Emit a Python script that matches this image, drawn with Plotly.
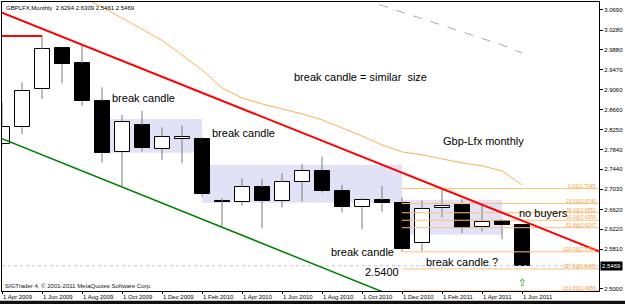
import plotly.graph_objects as go

# ---------------- data ----------------
months = ["Apr 2009", "May 2009", "Jun 2009", "Jul 2009", "Aug 2009", "Sep 2009", "Oct 2009",
          "Nov 2009", "Dec 2009", "Jan 2010", "Feb 2010", "Mar 2010", "Apr 2010", "May 2010",
          "Jun 2010", "Jul 2010", "Aug 2010", "Sep 2010", "Oct 2010", "Nov 2010", "Dec 2010",
          "Jan 2011", "Feb 2011", "Mar 2011", "Apr 2011", "May 2011", "Jun 2011"]
opens = [2.7951, 2.8298, 2.9073, 2.9909, 2.9603, 2.8834, 2.7788, 2.8339, 2.7861, 2.8053, 2.8059,
         2.6782, 2.6768, 2.7074, 2.6795, 2.7176, 2.7413, 2.7005, 2.6666, 2.6815, 2.6748, 2.5932,
         2.6646, 2.6713, 2.6271, 2.6393, 2.6294]
highs = [2.8800, 2.9216, 3.0160, 2.9925, 2.9997, 2.9114, 2.8549, 2.8630, 2.8298, 2.8330, 2.8094,
         2.6850, 2.7258, 2.7237, 2.7360, 2.7543, 2.7698, 2.7121, 2.6850, 2.7101, 2.6862, 2.6801,
         2.7045, 2.6830, 2.6748, 2.6420, 2.6309]
lows = [2.7916, 2.8155, 2.8875, 2.9195, 2.8732, 2.7576, 2.7086, 2.7800, 2.7631, 2.7564, 2.6882,
        2.6271, 2.6693, 2.6238, 2.6658, 2.6780, 2.6964, 2.6556, 2.6218, 2.6576, 2.5754, 2.5770,
        2.6462, 2.6136, 2.6169, 2.6014, 2.5461]
closes = [2.8310, 2.9044, 2.9889, 2.9583, 2.8834, 2.7768, 2.8412, 2.7882, 2.8106, 2.8106, 2.6931,
          2.6778, 2.7074, 2.6801, 2.7176, 2.7413, 2.7005, 2.6679, 2.6815, 2.6748, 2.5810, 2.6632,
          2.6693, 2.6238, 2.6373, 2.6294, 2.5469]

# slow moving average (orange), bars 4..26
ma_orange_start = 4
ma_orange = [3.0955, 3.0751, 3.0527, 3.0292, 3.0068, 2.9772, 2.9466, 2.9099, 2.8895, 2.8773,
             2.8671, 2.8569, 2.8447, 2.8284, 2.8120, 2.7937, 2.7794, 2.7733, 2.7651, 2.7570,
             2.7509, 2.7407, 2.7121]
# longer moving average (grey dashed), bars 18..26
ma_grey_start = 18
ma_grey = [3.0914, 3.0782, 3.0649, 3.0517, 3.0384, 3.0241, 3.0109, 2.9976, 2.9813]

# trend lines (bar index, price)
red_line_x = [0, 29.85]
red_line_y = [3.0633, 2.5763]
red_level_x = [0, 2]
red_level_y = [3.0160, 3.0160]
green_line_x = [0, 20]
green_line_y = [2.8063, 2.4778]

# highlighted ranges: (x0, x1, y0, y1)
boxes = [(5.4, 10, 2.7774, 2.8467), (10, 20, 2.6754, 2.7529), (20, 25, 2.6101, 2.6815)]

# fibonacci
fib_start = 20
fib_levels = [2.7045, 2.6740, 2.6552, 2.6399, 2.6247, 2.5754, 2.5405, 2.4956]
fib_labels = ["0.0@2.7045", "23.6@2.6740", "38.2@2.6552", "50.0@2.6399", "61.8@2.6247",
              "100.0@2.5754", "127.0@2.5405", "161.8@2.4956"]

y_tickvals = [3.0690, 3.0280, 2.9880, 2.9470, 2.9060, 2.8660, 2.8250, 2.7840, 2.7440, 2.7030,
              2.6620, 2.6220, 2.5810, 2.5000]
x_tickvals = list(range(0, 27, 2))
x_ticktext = ["1 " + months[i] for i in x_tickvals]

last_price = 2.5469
header = "GBPLFX,Monthly  2.6294 2.6309 2.5461 2.5469"
copyright_txt = "SIGTrader 4, \u00a9 2001-2011 MetaQuotes Software Corp."

notes = [  # text, bar index (left edge), price (middle)
    ("break candle", 5.4, 2.8895),
    ("break candle", 10.4, 2.8182),
    ("break candle = similar  size", 14.5, 2.9324),
    ("Gbp-Lfx monthly", 21.95, 2.8018),
    ("no buyers", 25.75, 2.6550),
    ("break candle", 16.35, 2.5745),
    ("break candle ?", 21.1, 2.5551),
    ("2.5400", 18.05, 2.5337),
]
arrow_bar, arrow_price = 26, 2.5122

x_range = [0, 29.85]
y_range = [2.4955, 3.0853]

# ---------------- figure ----------------
SMALL = dict(family="Liberation Sans, Arial", size=6, color="#000000")
BIG = dict(family="Liberation Sans, Arial", size=11, color="#000000")

fig = go.Figure()

for (x0, x1, y0, y1) in boxes:
    fig.add_shape(type="rect", x0=x0, x1=x1, y0=y0, y1=y1, xref="x", yref="y",
                  fillcolor="#E2E2F6", line=dict(width=0), layer="below")

# bodies
idx = list(range(len(months)))
base = [min(o, c) for o, c in zip(opens, closes)]
height = [max(abs(c - o), 0.0004) for o, c in zip(opens, closes)]
colors = ["#FFFFFF" if c >= o else "#000000" for o, c in zip(opens, closes)]
fig.add_trace(go.Bar(x=idx, y=height, base=base, width=0.75,
                     marker=dict(color=colors, line=dict(color="#000000", width=1)),
                     hoverinfo="skip", showlegend=False))

# wicks
wx, wy = [], []
for i in idx:
    top = max(opens[i], closes[i])
    bot = min(opens[i], closes[i])
    wx += [i, i, None, i, i, None]
    wy += [highs[i], top, None, bot, lows[i], None]
fig.add_trace(go.Scatter(x=wx, y=wy, mode="lines", line=dict(color="#7A7A7A", width=1),
                         hoverinfo="skip", showlegend=False))

# current price line
fig.add_trace(go.Scatter(x=x_range, y=[last_price, last_price], mode="lines",
                         line=dict(color="#C4C4D4", width=1, dash="dot"), showlegend=False))

# fib lines
for lv in fib_levels:
    fig.add_trace(go.Scatter(x=[fib_start, x_range[1]], y=[lv, lv], mode="lines",
                             line=dict(color="#FFBE78", width=1), showlegend=False))

# moving averages
fig.add_trace(go.Scatter(x=list(range(ma_orange_start, ma_orange_start + len(ma_orange))),
                         y=ma_orange, mode="lines", line=dict(color="#FFB050", width=1),
                         showlegend=False))
fig.add_trace(go.Scatter(x=list(range(ma_grey_start, ma_grey_start + len(ma_grey))),
                         y=ma_grey, mode="lines", line=dict(color="#A8A8B8", width=1, dash="dash"),
                         showlegend=False))

# trend lines
fig.add_trace(go.Scatter(x=red_level_x, y=red_level_y, mode="lines",
                         line=dict(color="#FF0000", width=2), showlegend=False))
fig.add_trace(go.Scatter(x=red_line_x, y=red_line_y, mode="lines",
                         line=dict(color="#FF0000", width=2), showlegend=False))
fig.add_trace(go.Scatter(x=green_line_x, y=green_line_y, mode="lines",
                         line=dict(color="#008000", width=1.5), showlegend=False))

annotations = []
for txt, lv in zip(fib_labels, fib_levels):
    annotations.append(dict(text=txt, xref="paper", x=1, xanchor="right", xshift=-2,
                            yref="y", y=lv, yanchor="bottom", yshift=-1, borderpad=0,
                            showarrow=False,
                            font=dict(family="Liberation Sans, Arial", size=5, color="#F0A040")))
for txt, xx, yy in notes:
    annotations.append(dict(text=txt, x=xx, y=yy, xanchor="left", yanchor="middle",
                            showarrow=False, font=BIG))
annotations.append(dict(text="\u21e7", x=arrow_bar, y=arrow_price, showarrow=False,
                        font=dict(family="DejaVu Sans", size=10, color="#00A000")))
annotations.append(dict(text=header, xref="paper", x=0, xanchor="left", xshift=2,
                        yref="paper", y=1, yanchor="top", yshift=-1, showarrow=False, font=SMALL))
annotations.append(dict(text=copyright_txt, xref="paper", x=0, xanchor="left", xshift=1,
                        yref="paper", y=0, yanchor="bottom", showarrow=False,
                        font=dict(family="Liberation Sans, Arial", size=6, color="#202020")))
annotations.append(dict(text=f"{last_price:.4f}", xref="paper", x=1, xanchor="left", xshift=1,
                        yref="y", y=last_price, yanchor="middle", showarrow=False,
                        bgcolor="#000000", borderpad=1,
                        font=dict(family="Liberation Sans, Arial", size=6, color="#FFFFFF")))

fig.add_shape(type="rect", xref="paper", yref="paper", x0=-0.01, x1=1.06, y0=-0.046, y1=-0.034,
              fillcolor="#101010", line=dict(width=0))

fig.update_layout(
    width=625, height=304,
    margin=dict(l=2, r=26, t=2, b=13, autoexpand=False),
    paper_bgcolor="#FFFFFF", plot_bgcolor="#FFFFFF",
    showlegend=False, bargap=0,
    annotations=annotations,
    xaxis=dict(range=x_range, showgrid=False, zeroline=False, showline=True, mirror=True,
               linecolor="#000000", linewidth=1, tickvals=x_tickvals, ticktext=x_ticktext,
               ticks="outside", ticklen=2, tickcolor="#000000", tickangle=0, automargin=False,
               ticklabelposition="outside right", tickfont=SMALL, rangeslider=dict(visible=False)),
    yaxis=dict(range=y_range, side="right", showgrid=False, zeroline=False, showline=True,
               mirror=True, linecolor="#000000", linewidth=1, tickvals=y_tickvals,
               ticktext=[f"{v:.4f}" for v in y_tickvals], ticks="outside", ticklen=3,
               tickcolor="#000000", tickfont=SMALL, automargin=False),
)

fig.write_html("out.html")
